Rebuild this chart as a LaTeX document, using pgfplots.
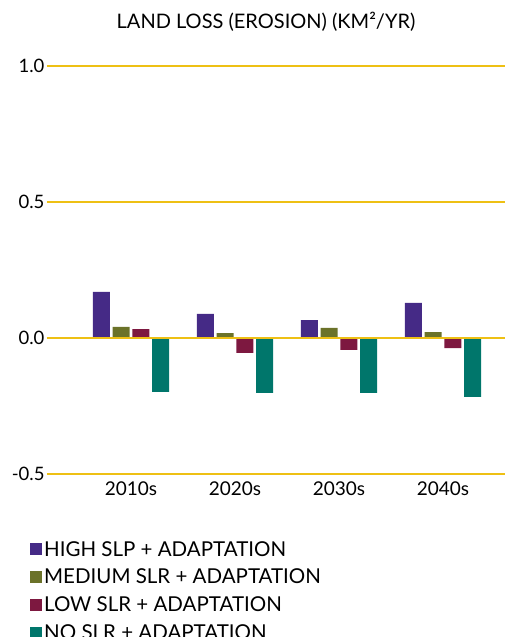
\documentclass[border=0pt]{standalone}
\usepackage{pgfplots}
\pgfplotsset{compat=1.18}
\usepackage{fontspec}
\setmainfont{Lato}
\definecolor{cHigh}{HTML}{452A86}
\definecolor{cMed}{HTML}{6B7229}
\definecolor{cLow}{HTML}{7D1840}
\definecolor{cNo}{HTML}{00766B}
\definecolor{cGrid}{RGB}{238,192,20}
\begin{document}
\begin{tikzpicture}
\useasboundingbox (-47bp,-163bp) rectangle (458bp,474bp);
\begin{axis}[
  at={(0,0)}, anchor=south west,
  scale only axis,
  width=458bp, height=408bp,
  xmin=-0.808, xmax=3.596,
  ymin=-0.5, ymax=1.0,
  ybar=2.7bp, bar width=17bp,
  axis line style={draw=none},
  major tick length=0pt,
  xtick={0,1,2,3},
  xticklabels={2010s,2020s,2030s,2040s},
  xticklabel style={font=\fontsize{19bp}{22bp}\selectfont, yshift=-4bp},
  ytick={-0.5,0,0.5,1},
  yticklabels={-0.5,0.0,0.5,1.0},
  yticklabel style={font=\fontsize{18.5bp}{20bp}\selectfont, xshift=1bp},
  clip=false,
  legend style={at={(rel axis cs:0,0)}, anchor=north west, xshift=-17bp, yshift=-65bp,
    draw=none, fill=none, font=\fontsize{20.5bp}{22bp}\selectfont,
    row sep=7.5bp, inner sep=0pt},
  legend cell align=left,
  legend image code/.code={\fill[#1] (0bp,-6bp) rectangle (12bp,6bp);},
]
\addplot[forget plot, draw=cGrid, line width=2bp, sharp plot, mark=none] coordinates {(-0.808,1) (3.596,1)};
\addplot[forget plot, draw=cGrid, line width=2bp, sharp plot, mark=none] coordinates {(-0.808,0.5) (3.596,0.5)};
\addplot[forget plot, draw=cGrid, line width=2bp, sharp plot, mark=none] coordinates {(-0.808,-0.5) (3.596,-0.5)};
\addplot[fill=cHigh, draw=none] coordinates {(0,0.170) (1,0.089) (2,0.066) (3,0.129)};
\addplot[fill=cMed, draw=none] coordinates {(0,0.041) (1,0.018) (2,0.037) (3,0.022)};
\addplot[fill=cLow, draw=none] coordinates {(0,0.033) (1,-0.055) (2,-0.044) (3,-0.037)};
\addplot[fill=cNo, draw=none] coordinates {(0,-0.198) (1,-0.202) (2,-0.202) (3,-0.216)};
\legend{HIGH SLP + ADAPTATION, MEDIUM SLR + ADAPTATION, LOW SLR + ADAPTATION, NO SLR + ADAPTATION}
\draw[draw=cGrid, line width=2bp] (axis cs:-0.808,0) -- (axis cs:3.596,0);
\end{axis}
\node[font=\fontsize{20bp}{22bp}\selectfont] at (219bp,452bp) {LAND LOSS (EROSION) (KM²/YR)};
\end{tikzpicture}
\end{document}
